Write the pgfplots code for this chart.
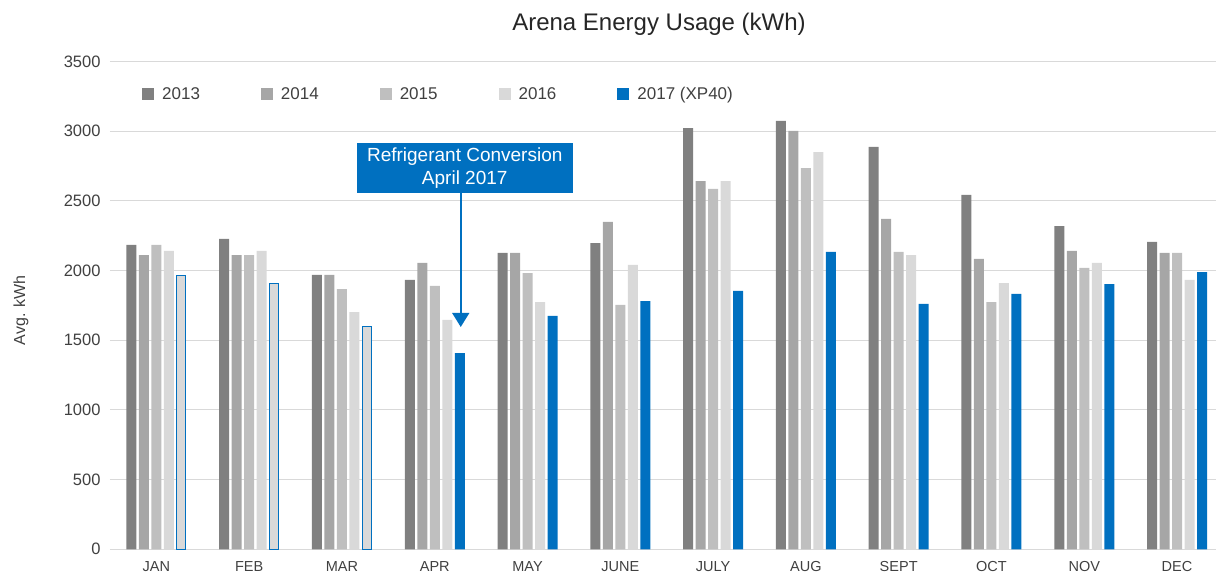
\documentclass[border=0pt]{standalone}
\usepackage{pgfplots}
\pgfplotsset{compat=1.18}
\usepackage{pgfplotstable}
\usepackage{fontspec}
\setmainfont{Liberation Sans}
\usetikzlibrary{arrows.meta}
\definecolor{c13}{HTML}{808080}
\definecolor{c14}{HTML}{A6A6A6}
\definecolor{c15}{HTML}{BFBFBF}
\definecolor{c16}{HTML}{D9D9D9}
\definecolor{c17}{HTML}{0070C0}
\definecolor{gridc}{HTML}{D9D9D9}
\definecolor{txt}{HTML}{404040}
\pgfplotstableread{
x y2013 y2014 y2015 y2016
0 2183 2111 2183 2140
1 2226 2111 2111 2140
2 1968 1968 1867 1702
3 1932 2054 1889 1645
4 2126 2126 1982 1774
5 2197 2348 1753 2040
6 3022 2642 2585 2642
7 3073 3001 2735 2850
8 2886 2370 2133 2111
9 2542 2083 1774 1910
10 2319 2140 2018 2054
11 2205 2126 2126 1932
}\datatable
\begin{document}
\begin{tikzpicture}
\useasboundingbox (-110pt,-23.7pt) rectangle (1106pt,549.3pt);
\begin{axis}[
  at={(0,0)}, anchor=south west,
  scale only axis,
  width=1106pt, height=487.9pt,
  xmin=-0.5, xmax=11.42,
  ymin=0, ymax=3500,
  ytick={0,500,...,3500},
  xtick={0,...,11},
  xticklabels={JAN,FEB,MAR,APR,MAY,JUNE,JULY,AUG,SEPT,OCT,NOV,DEC},
  axis line style={draw=none},
  major tick length=0pt,
  ymajorgrids,
  grid style={gridc, line width=1pt},
  scaled y ticks=false,
  /pgf/number format/1000 sep={},
  /pgf/number format/assume math mode=true,
  yticklabel style={font=\fontsize{16.5}{18}\selectfont, text=txt, anchor=east, xshift=-6pt},
  xticklabel style={font=\fontsize{14.5}{16}\selectfont, text=txt, anchor=center, yshift=-17pt},
  ylabel={Avg. kWh},
  ylabel style={font=\fontsize{16}{18}\selectfont, text=txt, at={(axis description cs:-0.0805,0.49)}, anchor=center, rotate=0},
  ybar, bar width=10pt,
  clip=false,
  legend columns=5,
  legend style={at={(axis description cs:0.0289,0.933)}, anchor=west, draw=none, fill=none,
    font=\fontsize{17}{19}\selectfont, text=txt, inner sep=0pt,
    /tikz/every odd column/.append style={column sep=6pt},
    /tikz/every even column/.append style={column sep=59pt}},
  legend image code/.code={\fill[#1] (0pt,-6pt) rectangle (12pt,6pt);},
]
\addplot[fill=c13, draw=none, bar shift=-25pt] table[x=x, y=y2013] {\datatable};
\addplot[fill=c14, draw=none, bar shift=-12.5pt] table[x=x, y=y2014] {\datatable};
\addplot[fill=c15, draw=none, bar shift=0pt] table[x=x, y=y2015] {\datatable};
\addplot[fill=c16, draw=none, bar shift=12.5pt] table[x=x, y=y2016] {\datatable};
\addplot[fill=c17, draw=none, bar shift=25pt] coordinates {(3,1408) (4,1674) (5,1781) (6,1853) (7,2133) (8,1760) (9,1832) (10,1903) (11,1989)};
\addplot[fill=c16, draw=c17, line width=1pt, bar shift=25pt, bar width=9pt, forget plot] coordinates {(0,1966) (1,1906) (2,1600)};
\legend{2013,2014,2015,2016,2017 (XP40)}
\node[fill=c17, text=white, align=center, minimum width=216pt, minimum height=50pt, inner sep=0pt,
  font=\fontsize{19}{22}\selectfont] at ([xshift=30pt]axis cs:3,2737) {Refrigerant Conversion\\[1pt]April 2017};
\draw[c17, line width=1.5pt, -{Triangle[width=17pt,length=14pt]}] ([xshift=26pt]axis cs:3,2558) -- ([xshift=26pt]axis cs:3,1595);
\node[font=\fontsize{24}{28}\selectfont, text=black!85] at ([yshift=37.5pt]axis description cs:0.4964,1) {Arena Energy Usage (kWh)};
\end{axis}
\end{tikzpicture}
\end{document}
